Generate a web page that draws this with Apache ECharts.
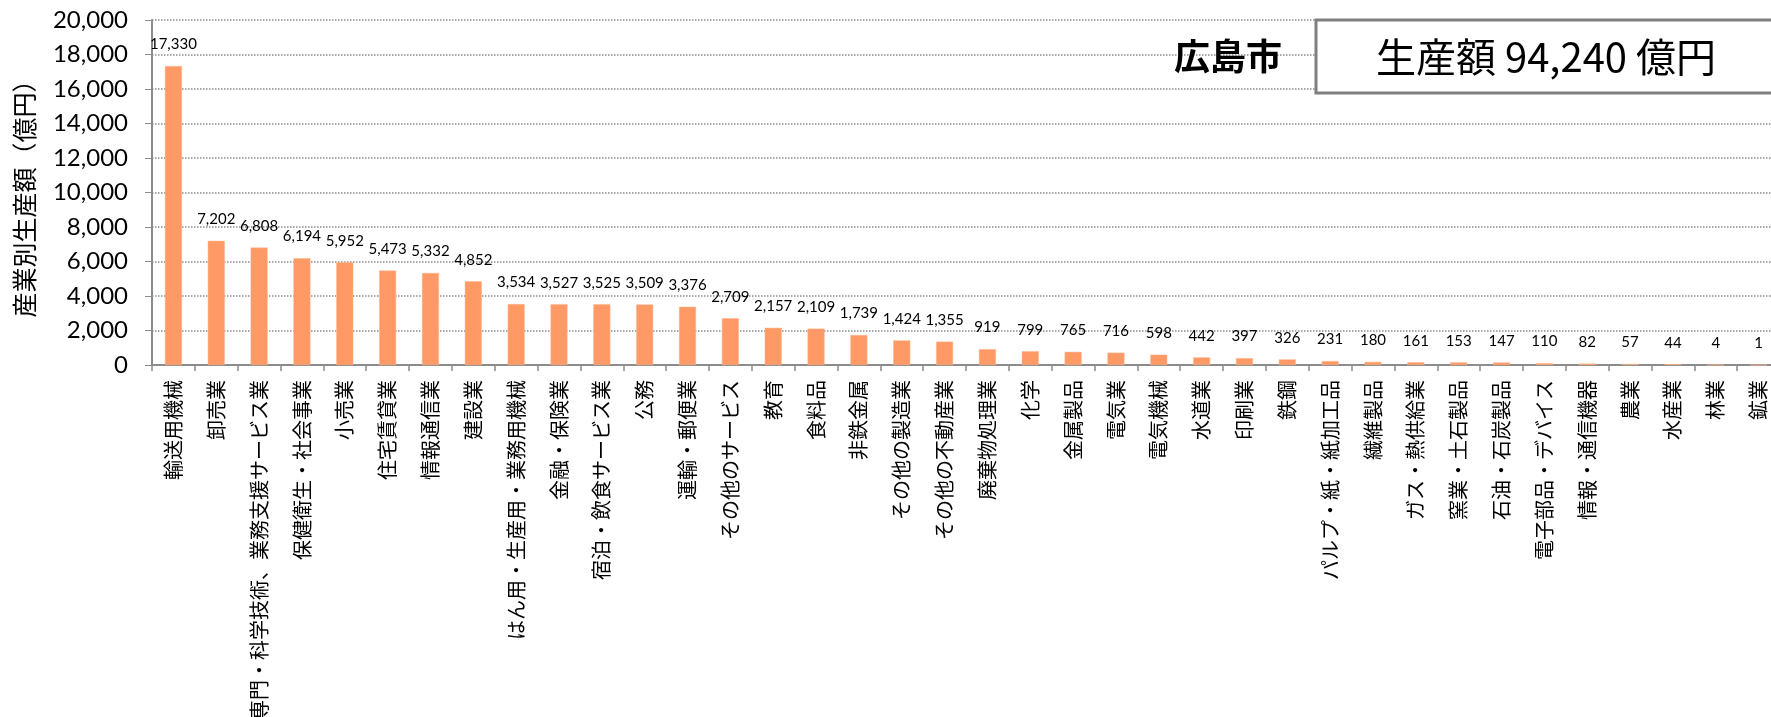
<!DOCTYPE html>
<html>
<head>
<meta charset="utf-8">
<script src="https://cdn.jsdelivr.net/npm/echarts@6/dist/echarts.min.js"></script>
<style>
html,body{margin:0;padding:0;background:#fff;}
#c{width:1771px;height:717px;}
</style>
</head>
<body>
<div id="c"></div>
<script>
const categories = [
  "輸送用機械","卸売業","専門・科学技術、業務支援サービス業","保健衛生・社会事業","小売業",
  "住宅賃貸業","情報通信業","建設業","はん用・生産用・業務用機械","金融・保険業",
  "宿泊・飲食サービス業","公務","運輸・郵便業","その他のサービス","教育",
  "食料品","非鉄金属","その他の製造業","その他の不動産業","廃棄物処理業",
  "化学","金属製品","電気業","電気機械","水道業",
  "印刷業","鉄鋼","パルプ・紙・紙加工品","繊維製品","ガス・熱供給業",
  "窯業・土石製品","石油・石炭製品","電子部品・デバイス","情報・通信機器","農業",
  "水産業","林業","鉱業"
];
const values = [
  17330,7202,6808,6194,5952,
  5473,5332,4852,3534,3527,
  3525,3509,3376,2709,2157,
  2109,1739,1424,1355,919,
  799,765,716,598,442,
  397,326,231,180,161,
  153,147,110,82,57,
  44,4,1
];
const yAxisName = "産業別生産額（億円）";
const cityTitle = "広島市";
const totalText = "生産額 94,240 億円";
const yMin = 0, yMax = 20000, yStep = 2000;

const fmt = v => Number(v).toLocaleString('en-US');
const JP = "'Noto Sans CJK JP','Noto Sans',sans-serif";
const NUM = "Lato,'Noto Sans CJK JP',sans-serif";

const chart = echarts.init(document.getElementById('c'), null, {renderer:'canvas'});
chart.setOption({
  animation:false,
  backgroundColor:'#fff',
  grid:{left:152, right:-9, top:20, bottom:352, containLabel:false, outerBoundsMode:'none'},
  xAxis:{
    type:'category',
    data:categories,
    boundaryGap:true,
    axisLine:{show:true, lineStyle:{color:'#8c8c8c', width:2}},
    axisTick:{show:true, alignWithLabel:false, length:6, lineStyle:{color:'#8c8c8c', width:1.5}},
    axisLabel:{rotate:90, interval:0, margin:15, fontSize:20, color:'#000', fontFamily:JP, hideOverlap:false}
  },
  yAxis:{
    type:'value',
    min:yMin, max:yMax, interval:yStep,
    name:yAxisName,
    nameLocation:'middle',
    nameGap:115,
    nameRotate:90,
    nameTextStyle:{fontSize:25, color:'#000', fontFamily:JP},
    axisLine:{show:true, lineStyle:{color:'#8c8c8c', width:2}},
    axisTick:{show:true, length:7, lineStyle:{color:'#8c8c8c', width:1}},
    axisLabel:{fontSize:24, color:'#000', margin:24, fontFamily:NUM, formatter:fmt},
    splitLine:{show:true, lineStyle:{color:'#8c8c8c', type:'dotted', width:1.5}}
  },
  series:[{
    type:'bar',
    data:values,
    barWidth:17,
    itemStyle:{color:'#FF9966', borderColor:'#FFB98F', borderWidth:0.5},
    label:{show:true, position:'top', distance:14, fontSize:15, color:'#000', fontFamily:NUM, formatter:p=>fmt(p.value)}
  }],
  graphic:[
    {type:'rect', shape:{x:1316, y:20, width:520, height:73}, style:{fill:'#fff', stroke:'#7f7f7f', lineWidth:3}, z:100},
    {type:'text', x:1546, y:57, style:{text:totalText, font:"40px 'Noto Sans CJK JP'", fill:'#000', align:'center', verticalAlign:'middle'}, z:101},
    {type:'text', x:1228, y:56, style:{text:cityTitle, font:"bold 36px 'Noto Sans CJK JP'", fill:'#000', align:'center', verticalAlign:'middle'}, z:101}
  ]
});
</script>
</body>
</html>
